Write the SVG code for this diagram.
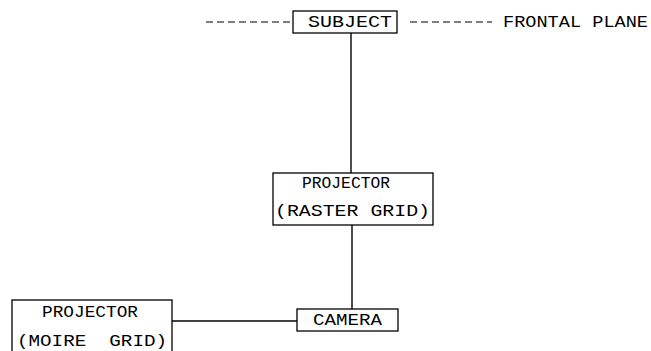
<svg xmlns="http://www.w3.org/2000/svg" width="651" height="351" viewBox="0 0 651 351">
<style>
.box{fill:#fff;stroke:#000;stroke-width:1.3}
.ln{stroke:#000;stroke-width:1.4;fill:none}
.dash{stroke:#000;stroke-width:1.2;fill:none;stroke-dasharray:7,4}
text{font-family:"Liberation Mono","DejaVu Sans Mono",monospace;font-size:17px;fill:#000}
</style>
<rect width="651" height="351" fill="#fff"/>
<g id="connectors">
<line class="dash" x1="206" y1="22" x2="290" y2="22"/>
<line class="dash" x1="410" y1="22" x2="492" y2="22"/>
<line class="ln" x1="351" y1="33" x2="351" y2="173"/>
<line class="ln" x1="352" y1="225" x2="352" y2="309"/>
<line class="ln" x1="172" y1="321" x2="297" y2="321"/>
</g>
<g id="subject">
<rect class="box" x="293" y="11" width="104" height="22"/>
<text x="308" y="27" textLength="84" lengthAdjust="spacingAndGlyphs">SUBJECT</text>
</g>
<g id="frontal-plane">
<text x="503" y="27" textLength="145" lengthAdjust="spacingAndGlyphs">FRONTAL PLANE</text>
</g>
<g id="projector-raster">
<rect class="box" x="273" y="173" width="160" height="52"/>
<text x="302" y="188" textLength="88" lengthAdjust="spacingAndGlyphs">PROJECTOR</text>
<text x="275" y="216" textLength="155" lengthAdjust="spacingAndGlyphs">(RASTER GRID)</text>
</g>
<g id="camera">
<rect class="box" x="297" y="309" width="101" height="22"/>
<text x="313" y="325" textLength="69" lengthAdjust="spacingAndGlyphs">CAMERA</text>
</g>
<g id="projector-moire">
<rect class="box" x="12" y="300" width="160" height="60"/>
<text x="42" y="317" textLength="96" lengthAdjust="spacingAndGlyphs">PROJECTOR</text>
<text x="17" y="346" textLength="150" lengthAdjust="spacingAndGlyphs" xml:space="preserve" style="white-space:pre">(MOIRE  GRID)</text>
</g>
</svg>
